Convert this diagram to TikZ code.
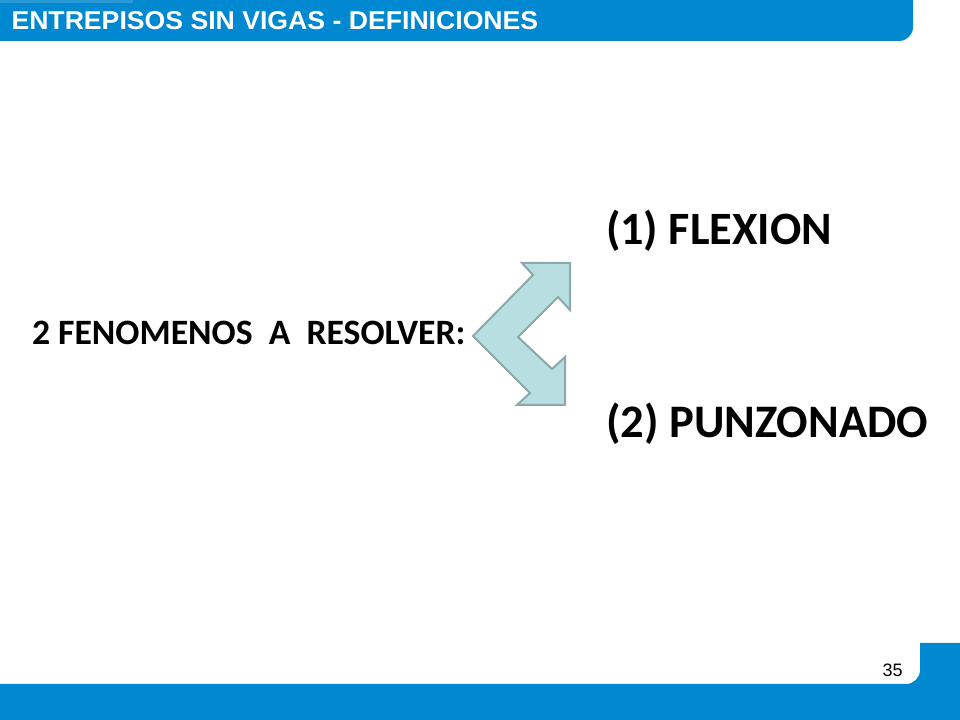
\documentclass[tikz,border=0pt]{standalone}
\usepackage{fontspec}
\setmainfont{Carlito}
\newfontfamily\arialf{Liberation Sans}
\definecolor{barblue}{RGB}{0,137,208}
\definecolor{stripblue}{RGB}{40,155,215}
\definecolor{arrfill}{RGB}{183,222,224}
\definecolor{arrline}{RGB}{140,168,170}
\begin{document}
\begin{tikzpicture}[x=0.75pt,y=0.75pt,
  txt/.style={inner sep=0pt,outer sep=0pt,anchor=base west,font=\bfseries}]
\useasboundingbox (0,0) rectangle (960,720);
\fill[white] (0,0) rectangle (960,720);
% header bar
\fill[barblue] (0,720) -- (913,720) -- (913,693) arc[start angle=0,end angle=-90,radius=14] -- (0,679) -- cycle;
\fill[stripblue] (0,717) rectangle (133,720);
\node[txt,text=white] (title) at (11.5,690) {\resizebox{395pt}{13.5pt}{\arialf\bfseries ENTREPISOS SIN VIGAS - DEFINICIONES}};
% footer
\fill[barblue] (0,0) -- (960,0) -- (960,77) -- (920,77) -- (920,50) arc[start angle=0,end angle=-90,radius=14] -- (0,36) -- cycle;
\node[inner sep=0pt,anchor=base east,font=\arialf\fontsize{13.5pt}{16pt}\selectfont] (page) at (903,43) {35};
% arrow
\draw[fill=arrfill,draw=arrline,line width=1.5pt,line join=miter]
  (473,384) -- (533,445) -- (522,457) -- (570,457) -- (570,410) -- (558,423)
  -- (518,383) -- (552,351) -- (565,363) -- (565,315) -- (517,315) -- (530,327) -- cycle;
% texts
\node[txt] (lead) at (32,375) {\resizebox{325pt}{!}{2 FENOMENOS\hspace{0.45em}A\hspace{0.45em}RESOLVER:}};
\node[txt] (flex) at (606,475) {\resizebox{169.5pt}{!}{(1) FLEXION}};
\node[txt] (punz) at (606,282) {\resizebox{241.5pt}{!}{(2) PUNZONADO}};
\end{tikzpicture}
\end{document}
